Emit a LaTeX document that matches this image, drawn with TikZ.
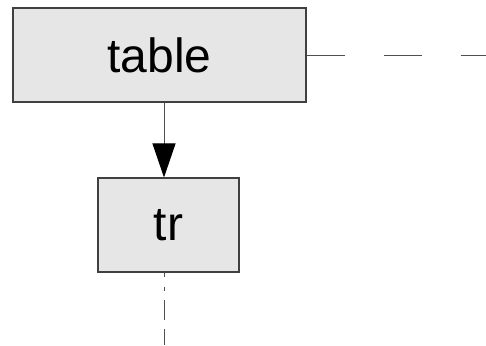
\documentclass[tikz,border=0pt]{standalone}
\usepackage{fontspec}
\setmainfont{Liberation Sans}
\usetikzlibrary{arrows.meta, positioning}
\definecolor{boxfill}{HTML}{E6E6E6}
\definecolor{boxline}{HTML}{404040}
\definecolor{wire}{HTML}{505050}
\tikzset{
  element/.style={draw=boxline, fill=boxfill, line width=1.1pt, inner sep=0pt,
    minimum height=94pt, font=\fontsize{48}{58}\selectfont},
  wire/.style={draw=wire, line width=1pt}
}

\begin{document}
\begin{tikzpicture}[x=1pt, y=-1pt]
\useasboundingbox (0,0) rectangle (486,345);
\node[element, minimum width=293pt] (table) at (159.5,55) {table};
\node[element, minimum width=141pt] (tr) at (168.5,225) {tr};
\coordinate (link) at (164,0);
\coordinate (more) at (486,0);
\coordinate (down) at (0,345);
% parent to child
\draw[wire, -{Triangle[width=23pt, length=34pt, color=black, fill=black]}]
  (table.south -| link) -- (tr.north -| link);
% siblings and children left out
\draw[wire, dash pattern=on 38pt off 39pt] (table.east) -- (table.east -| more);
\draw[wire, dash pattern=on 4pt off 10pt on 4pt off 9pt on 20pt off 9pt on 20pt off 9pt]
  (tr.south -| link) -- (down -| link);
\end{tikzpicture}
\end{document}
